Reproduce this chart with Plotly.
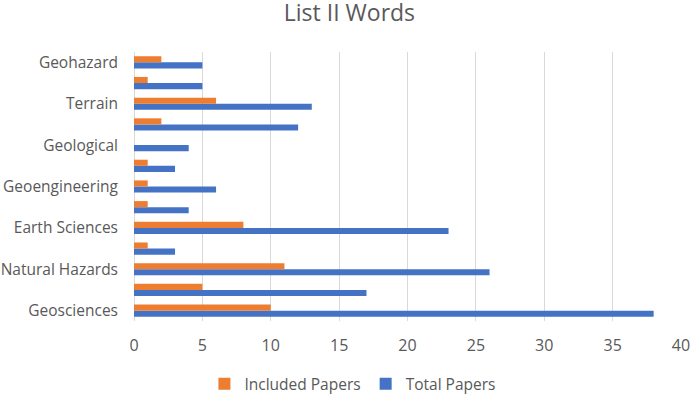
import plotly.graph_objects as go

categories = ["Geosciences", "Geology", "Natural Hazards", "Geophysics", "Earth Sciences",
              "Landslide", "Geoengineering", "Geomorphology", "Geological", "Geotechnical",
              "Terrain", "Slope", "Geohazard"]
shown_labels = ["Geosciences", "Natural Hazards", "Earth Sciences", "Geoengineering",
                "Geological", "Terrain", "Geohazard"]
total_papers = [38, 17, 26, 3, 23, 4, 6, 3, 4, 12, 13, 5, 5]
included_papers = [10, 5, 11, 1, 8, 1, 1, 1, 0, 2, 6, 1, 2]
x_ticks = [0, 5, 10, 15, 20, 25, 30, 35, 40]

FONT = "Open Sans"
GREY = "#595959"

fig = go.Figure()
fig.add_trace(go.Bar(y=categories, x=total_papers, orientation="h", name="Total Papers",
                     marker=dict(color="#4472C4", line=dict(width=0)), legendrank=2))
fig.add_trace(go.Bar(y=categories, x=included_papers, orientation="h", name="Included Papers",
                     marker=dict(color="#ED7D31", line=dict(width=0)), legendrank=1))

fig.update_layout(
    width=692, height=394,
    barmode="group", bargap=0.41, bargroupgap=0,
    paper_bgcolor="white", plot_bgcolor="white",
    margin=dict(l=134, r=11, t=52, b=73, autoexpand=False),
    title=dict(text="List II Words", x=0.505, xanchor="center", xref="container",
               y=1 - 13 / 394, yanchor="middle", pad=dict(t=0, b=0),
               font=dict(family=FONT, size=23, color=GREY)),
    font=dict(family=FONT, size=15.5, color=GREY),
    xaxis=dict(range=[0, 40], tickvals=x_ticks, showgrid=True, gridcolor="#d9d9d9",
               gridwidth=1, zeroline=True, zerolinecolor="#d9d9d9", zerolinewidth=1,
               showline=False, automargin=False, ticklabelstandoff=13,
               tickfont=dict(family=FONT, size=16, color=GREY), ticks=""),
    yaxis=dict(type="category", categoryorder="array", categoryarray=categories,
               tickvals=shown_labels, ticktext=shown_labels, showgrid=False,
               showline=False, ticks="", automargin=False, ticklabelstandoff=15,
               tickfont=dict(family=FONT, size=15.5, color=GREY)),
    legend=dict(orientation="h", xref="container", x=0.51, xanchor="center",
                y=-0.235, yanchor="middle",
                font=dict(family=FONT, size=15.5, color=GREY), itemwidth=30),
    showlegend=True,
)

fig.write_html("out.html", config={"displayModeBar": False},
               post_script="document.body.style.margin='0';document.body.style.padding='0';")
